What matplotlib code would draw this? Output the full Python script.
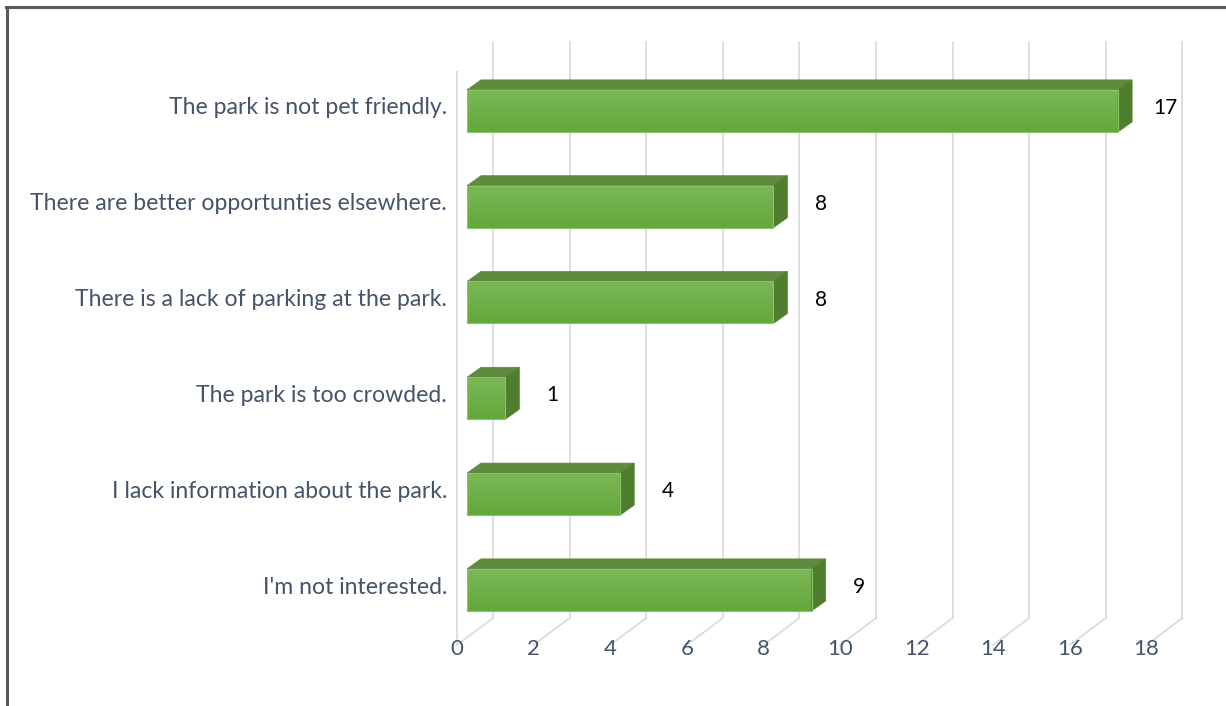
import numpy as np
import matplotlib
matplotlib.use("Agg")
import matplotlib.pyplot as plt
from matplotlib.patches import Polygon
from matplotlib.lines import Line2D

categories = ["I'm not interested.",
              "I lack information about the park.",
              "The park is too crowded.",
              "There is a lack of parking at the park.",
              "There are better opportunties elsewhere.",
              "The park is not pet friendly."]
values = [9, 4, 1, 8, 8, 17]
xticks = [0, 2, 4, 6, 8, 10, 12, 14, 16, 18]

W, H = 1226, 706
fig = plt.figure(figsize=(W / 100, H / 100), dpi=100)
fig.patch.set_facecolor("white")

# axes mapping: value units horizontally, category index vertically
px0, ppu = 457.0, 38.3        # pixel of 0, pixels per unit
py0, ppc = 587.0, 95.8        # pixel (from top) of category 0, pixels per category
ax = fig.add_axes([0, 0, 1, 1])
ax.set_xlim(-px0 / ppu, (W - px0) / ppu)
ax.set_ylim((py0 - H) / ppc, py0 / ppc)
ax.axis("off")

def cy(py):
    return (py0 - py) / ppc

# 3D geometry
D = 36 / ppu          # wall depth in x units
Dy = 27 / ppc         # wall depth in y units
floor_front = cy(645)
floor_back = floor_front + Dy
top_back = cy(42)
top_front = cy(72)

grid_c = "#DCDCDC"
for v in xticks:
    ax.plot([v + D, v + D], [floor_back, top_back], color=grid_c, lw=1.3, zorder=1)
    ax.plot([v, v + D], [floor_front, floor_back], color=grid_c, lw=1.3, zorder=1)
ax.plot([0, 0], [floor_front, top_front], color=grid_c, lw=1.3, zorder=1)

# bars
e = 10 / ppu
bdx = 14 / ppu
bdy = 10 / ppc
bh = 42 / ppc
boff = -0.03
grad = np.linspace(0, 1, 64)[:, None]
cmap = matplotlib.colors.LinearSegmentedColormap.from_list("g", ["#62A83A", "#7DB757"])
for i, v in enumerate(values):
    x0, x1 = e, e + v
    y0, y1 = i + boff - bh / 2, i + boff + bh / 2
    im = ax.imshow(grad, extent=[x0, x1, y0, y1], origin="lower", cmap=cmap,
                   aspect="auto", zorder=3, interpolation="bilinear")
    rect = Polygon([[x0, y0], [x1, y0], [x1, y1], [x0, y1]], closed=True,
                   transform=ax.transData)
    im.set_clip_path(rect)
    ax.add_patch(Polygon([[x0, y0], [x1, y0], [x1, y1], [x0, y1]], closed=True,
                         fill=False, ec="#8CC46A", lw=0.8, zorder=4))
    ax.add_patch(Polygon([[x0, y1], [x1, y1], [x1 + bdx, y1 + bdy], [x0 + bdx, y1 + bdy]],
                         closed=True, fc="#5F8A40", ec="#5F8A40", lw=0.5, zorder=3))
    ax.add_patch(Polygon([[x1, y0], [x1 + bdx, y0 + bdy], [x1 + bdx, y1 + bdy], [x1, y1]],
                         closed=True, fc="#4F7E2E", ec="#4F7E2E", lw=0.5, zorder=3))
    ax.text(v + 1.5, i, f"{v}", ha="center", va="center", fontsize=15,
            color="black", family="Lato", zorder=5)

txt_c = "#44546A"
for i, c in enumerate(categories):
    ax.text(-10 / ppu, i, c, ha="right", va="center", fontsize=16.6,
            color=txt_c, family="Lato")
for v in xticks:
    ax.text(v, cy(649), f"{v}", ha="center", va="center", fontsize=16,
            color=txt_c, family="Lato")

# outer border (left and top only visible)
bc = "#595959"
fig.add_artist(Line2D([7 / W, 7 / W], [0, 1 - 7 / H], transform=fig.transFigure,
                      color=bc, lw=2.2))
fig.add_artist(Line2D([6 / W, 1], [1 - 7 / H, 1 - 7 / H], transform=fig.transFigure,
                      color=bc, lw=2.2))

fig.savefig("out.png", dpi=100, facecolor="white")
